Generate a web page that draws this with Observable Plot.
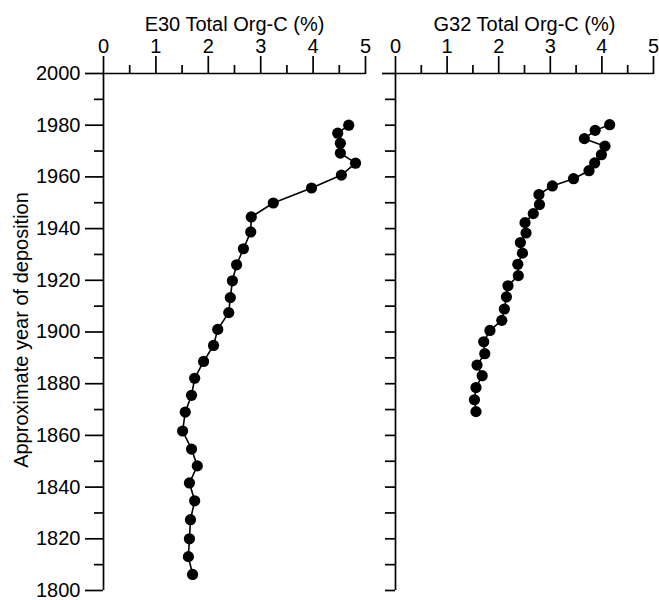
<!DOCTYPE html>
<html>
<head>
<meta charset="utf-8">
<script src="https://cdn.jsdelivr.net/npm/d3@7"></script>
<script src="https://cdn.jsdelivr.net/npm/@observablehq/plot@0.6"></script>
<style>
  html, body { margin: 0; padding: 0; background: #fff; }
  #wrap { position: relative; width: 659px; height: 600px; overflow: hidden; }
  #left, #right { position: absolute; top: 0; }
  #left { left: 0; }
  #right { left: 380px; }
</style>
</head>
<body>
<div id="wrap"><div id="left"></div><div id="right"></div></div>
<script>
// E30 core
const e30Years = [1980.0, 1976.9, 1973.0, 1969.2, 1965.3, 1960.7, 1955.7, 1949.9, 1944.5, 1938.7,
                  1932.2, 1926.0, 1919.8, 1913.3, 1907.5, 1901.0, 1894.8, 1888.6, 1882.1, 1875.5,
                  1869.0, 1861.7, 1854.7, 1848.2, 1841.6, 1834.7, 1827.4, 1820.0, 1813.1, 1806.2];
const e30OrgC  = [4.68, 4.47, 4.52, 4.52, 4.81, 4.54, 3.97, 3.24, 2.82, 2.81,
                  2.67, 2.54, 2.46, 2.42, 2.39, 2.18, 2.10, 1.91, 1.74, 1.68,
                  1.56, 1.51, 1.68, 1.79, 1.64, 1.74, 1.66, 1.64, 1.62, 1.70];
// G32 core
const g32Years = [1980.2, 1978.0, 1974.8, 1971.9, 1968.6, 1965.4, 1962.4, 1959.3, 1956.5, 1953.2,
                  1949.3, 1945.8, 1942.3, 1938.3, 1934.6, 1930.5, 1926.2, 1921.8, 1917.9, 1913.6,
                  1908.9, 1904.5, 1900.6, 1896.2, 1891.6, 1887.2, 1883.1, 1878.5, 1873.8, 1869.2];
const g32OrgC  = [4.15, 3.87, 3.66, 4.06, 3.99, 3.86, 3.75, 3.45, 3.04, 2.78,
                  2.79, 2.67, 2.51, 2.53, 2.42, 2.46, 2.37, 2.38, 2.18, 2.15,
                  2.11, 2.06, 1.83, 1.71, 1.73, 1.58, 1.68, 1.56, 1.53, 1.56];

const xMajor = [0, 1, 2, 3, 4, 5];
const xMinor = [0.5, 1.5, 2.5, 3.5, 4.5];
const yMajor = [1800, 1820, 1840, 1860, 1880, 1900, 1920, 1940, 1960, 1980, 2000];
const yMinor = [1810, 1830, 1850, 1870, 1890, 1910, 1930, 1950, 1970, 1990];
const titleE30 = "E30 Total Org-C (%)";
const titleG32 = "G32 Total Org-C (%)";
const yTitle = "Approximate year of deposition";

const FONT = "'Liberation Sans', Arial, Helvetica, sans-serif";
const SW = 1.7;

function panel({years, vals, title, width, ml, mr, showY}) {
  const data = years.map((y, i) => ({year: y, c: vals[i]}));
  const marks = [
    Plot.ruleY([2000], {stroke: "black", strokeWidth: SW}),
    Plot.ruleX([0], {stroke: "black", strokeWidth: SW}),
    Plot.axisX({anchor: "top", ticks: xMajor, tickSize: 18, tickPadding: 3, label: null,
      tickFormat: d => String(d), fontSize: 20, strokeWidth: SW}),
    Plot.axisX({anchor: "top", ticks: xMinor, tickSize: 9, label: null,
      fill: "none", strokeWidth: SW}),
    Plot.text([title], {frameAnchor: "top", dy: -57, fontSize: 20, fill: "black"}),
    Plot.line(data, {x: "c", y: "year", stroke: "black", strokeWidth: 1.6}),
    Plot.dot(data, {x: "c", y: "year", r: 5.6, fill: "black", stroke: null})
  ];
  if (showY) {
    marks.push(
      Plot.axisY({anchor: "left", ticks: yMajor, tickSize: 18, tickPadding: 5, label: null,
        tickFormat: d => String(d), fontSize: 20, strokeWidth: SW}),
      Plot.axisY({anchor: "left", ticks: yMinor, tickSize: 9, label: null,
        fill: "none", strokeWidth: SW}),
      Plot.text([yTitle], {frameAnchor: "left", textAnchor: "middle", dx: -82, dy: -2,
        rotate: -90, fontSize: 20, fill: "black"})
    );
  } else {
    marks.push(
      Plot.axisY({anchor: "left", ticks: yMajor.concat(yMinor).filter(d => d !== 2000), tickSize: 10,
        label: null, fill: "none", strokeWidth: SW}),
      Plot.axisY({anchor: "left", ticks: [2000], tickSize: 13, label: null,
        fill: "none", strokeWidth: SW})
    );
  }
  return Plot.plot({
    width, height: 600,
    marginLeft: ml, marginRight: mr, marginTop: 73, marginBottom: 10,
    style: {fontFamily: FONT, fontSize: "20px", overflow: "visible", background: "transparent", color: "black"},
    x: {domain: [0, 5]},
    y: {domain: [1800, 2000]},
    marks
  });
}

document.getElementById("left").append(panel({
  years: e30Years, vals: e30OrgC, title: titleE30, width: 380, ml: 103, mr: 15, showY: true
}));
document.getElementById("right").append(panel({
  years: g32Years, vals: g32OrgC, title: titleG32, width: 279, ml: 15, mr: 6, showY: false
}));
</script>
</body>
</html>
